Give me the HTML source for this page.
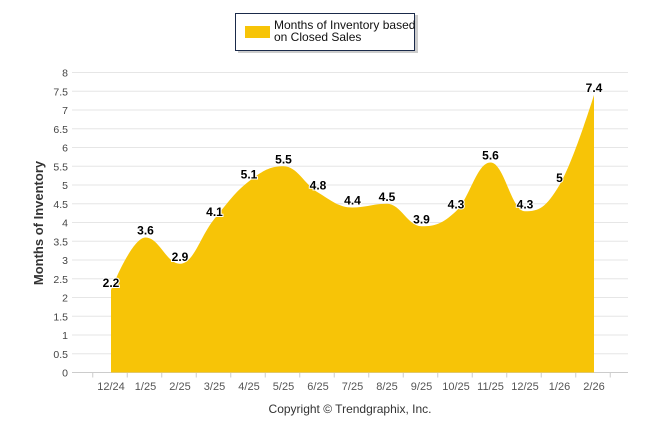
<!DOCTYPE html>
<html><head><meta charset="utf-8"><style>
body{margin:0;background:#fff;}
svg{display:block;font-family:"Liberation Sans",Arial,sans-serif;}
</style></head><body>
<svg id="c" width="646" height="434">
<g id="grid"></g>
<g id="yl"></g>
<g id="xl"></g>
<path id="area" fill="#f7c407"></path>
<g id="dl"></g>
<text transform="translate(43,223) rotate(-90)" text-anchor="middle" font-size="13" font-weight="bold" fill="#333">Months of Inventory</text>
<text x="350" y="413" text-anchor="middle" font-size="12" fill="#333">Copyright © Trendgraphix, Inc.</text>
<g>
<rect x="238" y="15" width="180" height="38" fill="#999" opacity="0.5"/>
<rect x="235.5" y="13.5" width="179" height="37" fill="#fff" stroke="#1a2a4a" stroke-width="1"/>
<rect x="245" y="26" width="25" height="12" fill="#f7c407"/>
<text x="274" y="29" font-size="12" fill="#111">Months of Inventory based</text>
<text x="274" y="41" font-size="12" fill="#111">on Closed Sales</text>
</g>
</svg>
<script>
const categories=["12/24","1/25","2/25","3/25","4/25","5/25","6/25","7/25","8/25","9/25","10/25","11/25","12/25","1/26","2/26"];
const values=[2.2,3.6,2.9,4.1,5.1,5.5,4.8,4.4,4.5,3.9,4.3,5.6,4.3,5,7.4];
const yTicks=[0,0.5,1,1.5,2,2.5,3,3.5,4,4.5,5,5.5,6,6.5,7,7.5,8];
const NS="http://www.w3.org/2000/svg";
const x0=111,dx=34.5,yb=372.5,yk=37.5;
const X=i=>x0+i*dx, Y=v=>yb-v*yk;
function mk(t,a,p,txt){const e=document.createElementNS(NS,t);for(const k in a)e.setAttribute(k,a[k]);if(txt!=null)e.textContent=txt;p.appendChild(e);return e;}
const grid=document.getElementById('grid'),yl=document.getElementById('yl'),xl=document.getElementById('xl'),dl=document.getElementById('dl');
yTicks.forEach(t=>{
 const l=mk('line',{x1:72,x2:628,y1:Y(t),y2:Y(t),stroke:t===0?'#ccc':'#e6e6e6','stroke-width':1},grid);
 
 
 const tx=mk('text',{x:68,y:Y(t)+4,'text-anchor':'end','font-size':10.5,fill:'#444'},yl,String(t));
 
 
});
for(let i=0;i<=categories.length;i++){mk('line',{x1:X(i)-dx/2-1,x2:X(i)-dx/2-1,y1:yb,y2:yb+5,stroke:'#ccc'},grid);}
categories.forEach((c,i)=>{
 const tx=mk('text',{x:X(i),y:390,'text-anchor':'middle','font-size':11,fill:'#555'},xl,c);
 
 
});
const P=values.map((v,i)=>({x:X(i),y:Y(v)}));
const sm=1.5,den=2.5;
P.forEach((p,i)=>{
 if(i===0||i===P.length-1){p.lx=p.x;p.ly=p.y;p.rx=p.x;p.ry=p.y;return;}
 const a=P[i-1],b=P[i+1];
 let lx=(sm*p.x+a.x)/den,ly=(sm*p.y+a.y)/den,rx=(sm*p.x+b.x)/den,ry=(sm*p.y+b.y)/den;
 const cor=((ry-ly)*(rx-p.x))/(rx-lx)+p.y-ry;ly+=cor;ry+=cor;
 if(ly>a.y&&ly>p.y){ly=Math.max(a.y,p.y);ry=2*p.y-ly;}else if(ly<a.y&&ly<p.y){ly=Math.min(a.y,p.y);ry=2*p.y-ly;}
 if(ry>b.y&&ry>p.y){ry=Math.max(b.y,p.y);ly=2*p.y-ry;}else if(ry<b.y&&ry<p.y){ry=Math.min(b.y,p.y);ly=2*p.y-ry;}
 p.lx=lx;p.ly=ly;p.rx=rx;p.ry=ry;
});
let d=`M${P[0].x},${yb} L${P[0].x},${P[0].y}`;
for(let i=1;i<P.length;i++){const a=P[i-1],p=P[i];d+=` C${a.rx},${a.ry} ${p.lx},${p.ly} ${p.x},${p.y}`;}
d+=` L${P[P.length-1].x},${yb} Z`;
document.getElementById('area').setAttribute('d',d);
values.forEach((v,i)=>{
 const tx=mk('text',{x:X(i),y:Y(v)-3,'text-anchor':'middle','font-size':12,'font-weight':'bold',fill:'#000',stroke:'#fff','stroke-width':2,'paint-order':'stroke'},dl,String(v));
 
 
});
</script>
</body></html>
